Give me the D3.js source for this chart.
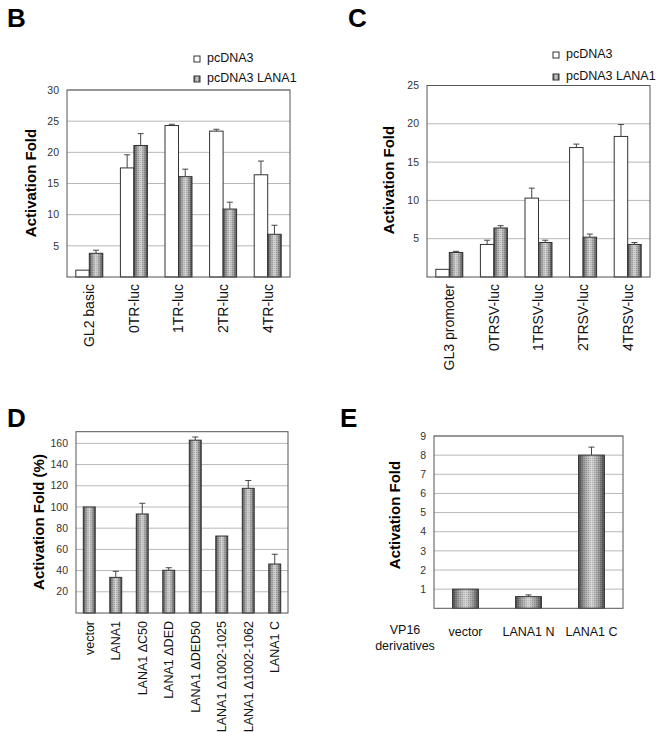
<!DOCTYPE html>
<html><head><meta charset="utf-8">
<script src="https://cdn.jsdelivr.net/npm/d3@7"></script>
<style>body{margin:0;background:#fff}</style>
</head><body><svg id="c" width="658" height="732"></svg>
<script>
// ---------- DATA ----------
const seriesNames = ["pcDNA3", "pcDNA3 LANA1"];

const bCategories = ["GL2 basic", "0TR-luc", "1TR-luc", "2TR-luc", "4TR-luc"];
const bPcDNA3 = [1.1, 17.5, 24.3, 23.4, 16.4];
const bPcDNA3Err = [0, 2.1, 0.2, 0.3, 2.2];
const bLANA1 = [3.8, 21.1, 16.1, 10.9, 6.85];
const bLANA1Err = [0.5, 1.9, 1.2, 1.1, 1.45];
const bTicks = [5, 10, 15, 20, 25, 30];

const cCategories = ["GL3 promoter", "0TRSV-luc", "1TRSV-luc", "2TRSV-luc", "4TRSV-luc"];
const cPcDNA3 = [1.0, 4.25, 10.3, 16.9, 18.35];
const cPcDNA3Err = [0, 0.55, 1.3, 0.45, 1.55];
const cLANA1 = [3.2, 6.4, 4.5, 5.2, 4.25];
const cLANA1Err = [0.15, 0.3, 0.3, 0.4, 0.25];
const cTicks = [5, 10, 15, 20, 25];

const dCategories = ["vector", "LANA1", "LANA1 \u0394C50", "LANA1 \u0394DED", "LANA1 \u0394DED50",
  "LANA1 \u03941002-1025", "LANA1 \u03941002-1062", "LANA1 C"];
const dValues = [100, 33.6, 93.4, 40.3, 163, 72.6, 117.6, 46.2];
const dErr = [0, 5.7, 10.1, 2.4, 3, 0, 7.4, 9.2];
const dTicks = [20, 40, 60, 80, 100, 120, 140, 160];

const eCategories = ["vector", "LANA1 N", "LANA1 C"];
const eValues = [1.0, 0.61, 8.0];
const eErr = [0, 0.09, 0.42];
const eTicks = [1, 2, 3, 4, 5, 6, 7, 8, 9];

// ---------- DRAWING ----------
const svg = d3.select("#c");
const FONT = "'Liberation Sans', Arial, sans-serif";
const defs = svg.append("defs");
const grad = defs.append("linearGradient").attr("id", "barGrad")
  .attr("x1", "0%").attr("x2", "100%").attr("y1", "0%").attr("y2", "0%");
[["0%", "#454545"], ["22%", "#9a9a9a"], ["50%", "#d6d6d6"], ["78%", "#9a9a9a"], ["100%", "#454545"]]
  .forEach(([o, c]) => grad.append("stop").attr("offset", o).attr("stop-color", c));
const pat = defs.append("pattern").attr("id", "stipple").attr("patternUnits", "userSpaceOnUse")
  .attr("width", 2).attr("height", 2);
pat.append("rect").attr("x", 0).attr("y", 0).attr("width", 1).attr("height", 1).attr("fill", "#000").attr("opacity", 0.13);
pat.append("rect").attr("x", 1).attr("y", 1).attr("width", 1).attr("height", 1).attr("fill", "#fff").attr("opacity", 0.12);
const GREY = "url(#barGrad)";

function drawBar(sel, x, y, w, h, fill) {
  sel.append("rect").attr("x", x).attr("y", y).attr("width", w).attr("height", h)
    .attr("fill", fill);
  if (fill === GREY) {
    sel.append("rect").attr("x", x).attr("y", y).attr("width", w).attr("height", h)
      .attr("fill", "url(#stipple)");
  }
  sel.append("rect").attr("x", x).attr("y", y).attr("width", w).attr("height", h)
    .attr("fill", "none").attr("stroke", "#333").attr("stroke-width", 1);
}

function panel(o) {
  const g = svg.append("g");
  const y = d3.scaleLinear().domain([0, o.max]).range([o.bottom, o.top]);
  const x = d3.scaleBand().domain(o.categories).range([o.left, o.right])
    .paddingInner(o.pad).paddingOuter(o.pad / 2);
  // gridlines
  g.append("g").selectAll("line").data(o.ticks).join("line")
    .attr("x1", o.left).attr("x2", o.right)
    .attr("y1", d => y(d)).attr("y2", d => y(d))
    .attr("stroke", "#b8b8b8").attr("stroke-width", 1);
  // tick labels
  g.append("g").selectAll("text").data(o.ticks).join("text")
    .attr("x", o.left - 8).attr("y", d => y(d)).attr("dy", "0.35em")
    .attr("text-anchor", "end").attr("font-family", FONT).attr("font-size", 10.5)
    .attr("fill", "#333").text(d => d);
  // bars
  const sub = d3.scaleBand().domain(d3.range(o.series.length)).range([0, x.bandwidth()]);
  o.series.forEach((s, si) => {
    const bars = g.append("g");
    o.categories.forEach((cat, i) => {
      const bx = x(cat) + sub(si), bw = sub.bandwidth();
      const v = s.values[i], e = s.errs[i];
      drawBar(bars, bx, y(v), bw, y(0) - y(v), s.fill);
      if (e > 0) {
        const cx = bx + bw / 2;
        bars.append("line").attr("x1", cx).attr("x2", cx).attr("y1", y(v)).attr("y2", y(v + e))
          .attr("stroke", "#444").attr("stroke-width", 1);
        bars.append("line").attr("x1", cx - 3).attr("x2", cx + 3).attr("y1", y(v + e)).attr("y2", y(v + e))
          .attr("stroke", "#444").attr("stroke-width", 1);
      }
    });
  });
  // frame
  g.append("rect").attr("x", o.left).attr("y", o.top).attr("width", o.right - o.left)
    .attr("height", o.bottom - o.top).attr("fill", "none").attr("stroke", "#555").attr("stroke-width", 1);
  // category labels
  if (o.rotate) {
    g.append("g").selectAll("text").data(o.categories).join("text")
      .attr("transform", d => `translate(${x(d) + x.bandwidth() / 2},${o.labelY}) rotate(-90)`)
      .attr("text-anchor", "end").attr("dy", "0.35em")
      .attr("font-family", FONT).attr("font-size", o.labelSize).attr("fill", "#111").text(d => d);
  } else {
    g.append("g").selectAll("text").data(o.categories).join("text")
      .attr("x", d => x(d) + x.bandwidth() / 2).attr("y", o.labelY)
      .attr("text-anchor", "middle")
      .attr("font-family", FONT).attr("font-size", o.labelSize).attr("fill", "#111").text(d => d);
  }
  // y title
  g.append("text").attr("transform", `translate(${o.titleX},${o.titleY}) rotate(-90)`)
    .attr("text-anchor", "middle").attr("font-family", FONT).attr("font-weight", "bold")
    .attr("font-size", 15).attr("fill", "#000").text(o.title);
  // panel letter
  g.append("text").attr("x", o.letterX).attr("y", o.letterY)
    .attr("font-family", FONT).attr("font-weight", "bold").attr("font-size", 26)
    .attr("fill", "#000").text(o.letter);
  // legend
  if (o.legend) {
    o.series.forEach((s, si) => {
      const ly = o.legend.y + si * o.legend.dy;
      drawBar(g, o.legend.x, ly - 6, 6, 6, s.fill);
      g.append("text").attr("x", o.legend.x + 13).attr("y", ly)
        .attr("font-family", FONT).attr("font-size", 12.5).attr("fill", "#111").text(seriesNames[si]);
    });
  }
  return g;
}

panel({
  letter: "B", letterX: 7, letterY: 27,
  left: 67, right: 290, top: 90, bottom: 277, max: 30, ticks: bTicks,
  categories: bCategories, pad: 0.395,
  series: [{ values: bPcDNA3, errs: bPcDNA3Err, fill: "#fff" },
           { values: bLANA1, errs: bLANA1Err, fill: GREY }],
  rotate: true, labelY: 284, labelSize: 14,
  title: "Activation Fold", titleX: 36, titleY: 183,
  legend: { x: 194, y: 62, dy: 20 }
});

panel({
  letter: "C", letterX: 348, letterY: 27,
  left: 427, right: 650, top: 85.5, bottom: 277, max: 25, ticks: cTicks,
  categories: cCategories, pad: 0.395,
  series: [{ values: cPcDNA3, errs: cPcDNA3Err, fill: "#fff" },
           { values: cLANA1, errs: cLANA1Err, fill: GREY }],
  rotate: true, labelY: 284, labelSize: 14,
  title: "Activation Fold", titleX: 394, titleY: 180,
  legend: { x: 553, y: 58, dy: 22 }
});

panel({
  letter: "D", letterX: 7, letterY: 427,
  left: 76, right: 288, top: 431.7, bottom: 613, max: 171, ticks: dTicks,
  categories: dCategories, pad: 0.55,
  series: [{ values: dValues, errs: dErr, fill: GREY }],
  rotate: true, labelY: 621, labelSize: 12.5,
  title: "Activation Fold (%)", titleX: 44, titleY: 522
});

const eG = panel({
  letter: "E", letterX: 340, letterY: 427,
  left: 434, right: 623, top: 436, bottom: 608.3, max: 9, ticks: eTicks,
  categories: eCategories, pad: 0.59,
  series: [{ values: eValues, errs: eErr, fill: GREY }],
  rotate: false, labelY: 636, labelSize: 12.5,
  title: "Activation Fold", titleX: 400, titleY: 515
});
eG.append("text").attr("x", 405).attr("y", 634).attr("text-anchor", "middle")
  .attr("font-family", FONT).attr("font-size", 12.5).attr("fill", "#111").text("VP16");
eG.append("text").attr("x", 405).attr("y", 650).attr("text-anchor", "middle")
  .attr("font-family", FONT).attr("font-size", 12.5).attr("fill", "#111").text("derivatives");
</script></body></html>
